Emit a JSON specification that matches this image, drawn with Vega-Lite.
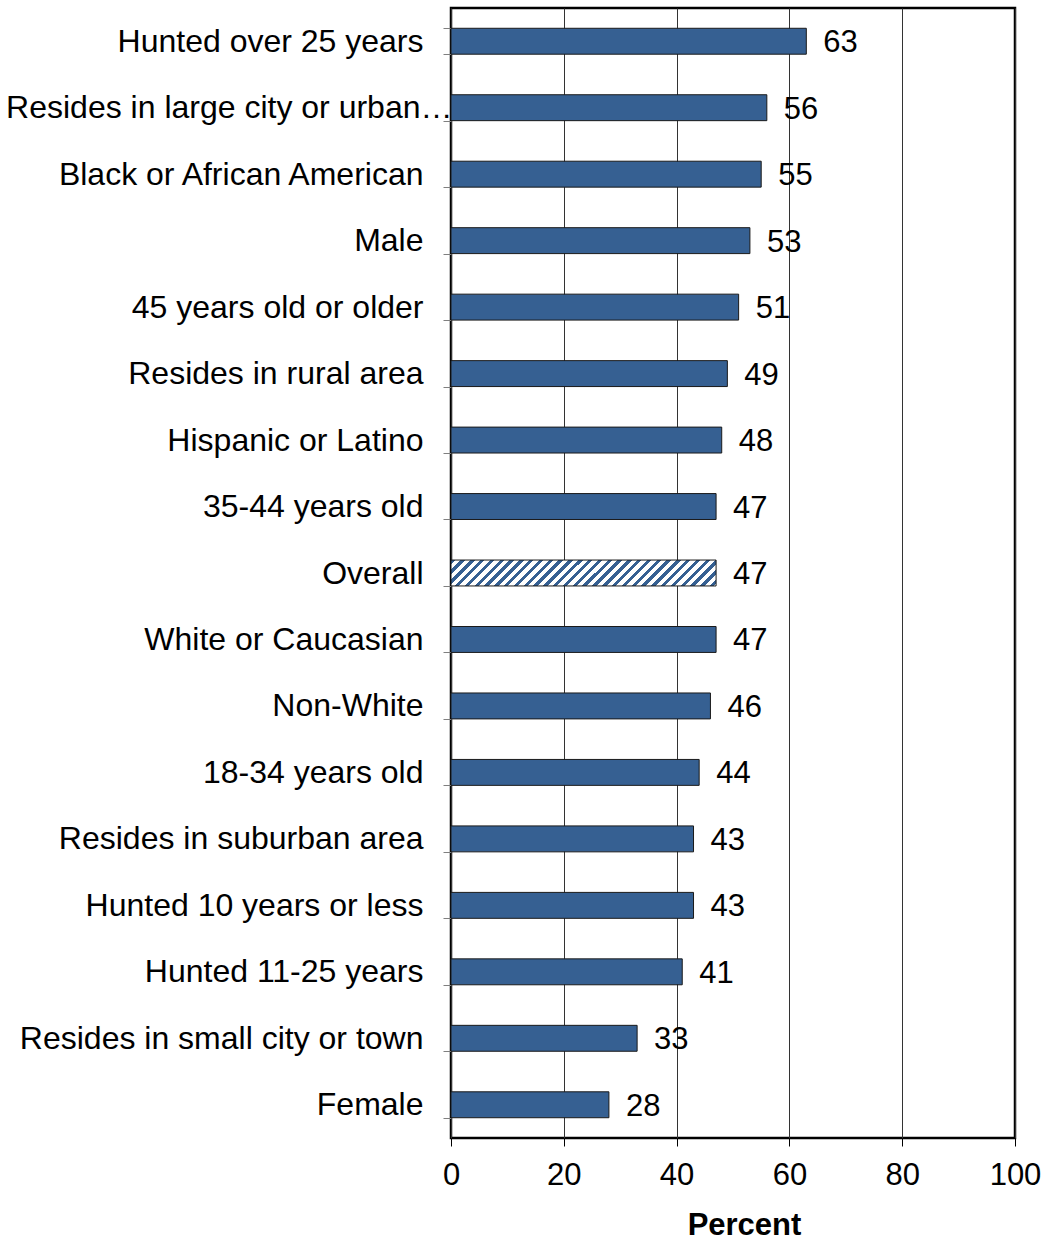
{
  "$schema": "https://vega.github.io/schema/vega-lite/v6.json",
  "width": 564,
  "height": 1130,
  "autosize": "none",
  "padding": {"left": 451, "top": 8, "right": 31, "bottom": 103},
  "background": "white",
  "config": {
    "font": "Liberation Sans",
    "view": {"stroke": "black", "strokeWidth": 2.5}
  },
  "data": {
    "values": [
      {"group": "Hunted over 25 years", "pct": 63},
      {"group": "Resides in large city or urban…", "pct": 56},
      {"group": "Black or African American", "pct": 55},
      {"group": "Male", "pct": 53},
      {"group": "45 years old or older", "pct": 51},
      {"group": "Resides in rural area", "pct": 49},
      {"group": "Hispanic or Latino", "pct": 48},
      {"group": "35-44 years old", "pct": 47},
      {"group": "Overall", "pct": 47},
      {"group": "White or Caucasian", "pct": 47},
      {"group": "Non-White", "pct": 46},
      {"group": "18-34 years old", "pct": 44},
      {"group": "Resides in suburban area", "pct": 43},
      {"group": "Hunted 10 years or less", "pct": 43},
      {"group": "Hunted 11-25 years", "pct": 41},
      {"group": "Resides in small city or town", "pct": 33},
      {"group": "Female", "pct": 28}
    ]
  },
  "encoding": {
    "y": {
      "field": "group",
      "type": "nominal",
      "sort": [
        "Hunted over 25 years",
        "Resides in large city or urban…",
        "Black or African American",
        "Male",
        "45 years old or older",
        "Resides in rural area",
        "Hispanic or Latino",
        "35-44 years old",
        "Overall",
        "White or Caucasian",
        "Non-White",
        "18-34 years old",
        "Resides in suburban area",
        "Hunted 10 years or less",
        "Hunted 11-25 years",
        "Resides in small city or town",
        "Female"
      ],
      "scale": {"paddingInner": 0.61, "paddingOuter": 0.305},
      "axis": {
        "title": null,
        "domain": false,
        "grid": false,
        "ticks": true,
        "tickBand": "extent",
        "tickSize": 8,
        "tickColor": "#7f7f7f",
        "tickWidth": 1,
        "labelFontSize": 32,
        "labelColor": "black",
        "labelPadding": {"condition": {"test": "datum.value === 'Resides in large city or urban…'", "value": -9}, "value": 20},
        "labelLimit": 600
      }
    },
    "x": {
      "field": "pct",
      "type": "quantitative",
      "scale": {"domain": [0, 100], "nice": false},
      "axis": {
        "values": [0, 20, 40, 60, 80, 100],
        "domain": false,
        "grid": true,
        "gridColor": "#333333",
        "gridWidth": 1,
        "ticks": true,
        "tickSize": 8,
        "tickColor": "black",
        "tickWidth": 1,
        "labelFontSize": 31,
        "labelColor": "black",
        "labelPadding": 14,
        "labelFlush": false,
        "title": "Percent",
        "titleFontSize": 31,
        "titleFontWeight": "bold",
        "titleColor": "black",
        "titleX": 293,
        "titleY": 96,
        "titleAlign": "center",
        "titleBaseline": "alphabetic"
      }
    }
  },
  "layer": [
    {
      "transform": [{"filter": "datum.group !== 'Overall'"}],
      "mark": {"type": "bar", "fill": "#366092", "stroke": "#1a1a1a", "strokeWidth": 1}
    },
    {
      "transform": [{"filter": "datum.group === 'Overall'"}],
      "mark": {
        "type": "bar",
        "stroke": "#1a1a1a",
        "strokeWidth": 1,
        "fill": {
          "gradient": "linear",
          "x1": 0, "y1": 0, "x2": 1.1, "y2": 0.1079,
          "stops": [
            {"offset": 0, "color": "#366092"}, {"offset": 0.015, "color": "#366092"}, {"offset": 0.015, "color": "white"}, {"offset": 0.0333, "color": "white"},
            {"offset": 0.0333, "color": "#366092"}, {"offset": 0.0483, "color": "#366092"}, {"offset": 0.0483, "color": "white"}, {"offset": 0.0667, "color": "white"},
            {"offset": 0.0667, "color": "#366092"}, {"offset": 0.0817, "color": "#366092"}, {"offset": 0.0817, "color": "white"}, {"offset": 0.1, "color": "white"},
            {"offset": 0.1, "color": "#366092"}, {"offset": 0.115, "color": "#366092"}, {"offset": 0.115, "color": "white"}, {"offset": 0.1333, "color": "white"},
            {"offset": 0.1333, "color": "#366092"}, {"offset": 0.1483, "color": "#366092"}, {"offset": 0.1483, "color": "white"}, {"offset": 0.1667, "color": "white"},
            {"offset": 0.1667, "color": "#366092"}, {"offset": 0.1817, "color": "#366092"}, {"offset": 0.1817, "color": "white"}, {"offset": 0.2, "color": "white"},
            {"offset": 0.2, "color": "#366092"}, {"offset": 0.215, "color": "#366092"}, {"offset": 0.215, "color": "white"}, {"offset": 0.2333, "color": "white"},
            {"offset": 0.2333, "color": "#366092"}, {"offset": 0.2483, "color": "#366092"}, {"offset": 0.2483, "color": "white"}, {"offset": 0.2667, "color": "white"},
            {"offset": 0.2667, "color": "#366092"}, {"offset": 0.2817, "color": "#366092"}, {"offset": 0.2817, "color": "white"}, {"offset": 0.3, "color": "white"},
            {"offset": 0.3, "color": "#366092"}, {"offset": 0.315, "color": "#366092"}, {"offset": 0.315, "color": "white"}, {"offset": 0.3333, "color": "white"},
            {"offset": 0.3333, "color": "#366092"}, {"offset": 0.3483, "color": "#366092"}, {"offset": 0.3483, "color": "white"}, {"offset": 0.3667, "color": "white"},
            {"offset": 0.3667, "color": "#366092"}, {"offset": 0.3817, "color": "#366092"}, {"offset": 0.3817, "color": "white"}, {"offset": 0.4, "color": "white"},
            {"offset": 0.4, "color": "#366092"}, {"offset": 0.415, "color": "#366092"}, {"offset": 0.415, "color": "white"}, {"offset": 0.4333, "color": "white"},
            {"offset": 0.4333, "color": "#366092"}, {"offset": 0.4483, "color": "#366092"}, {"offset": 0.4483, "color": "white"}, {"offset": 0.4667, "color": "white"},
            {"offset": 0.4667, "color": "#366092"}, {"offset": 0.4817, "color": "#366092"}, {"offset": 0.4817, "color": "white"}, {"offset": 0.5, "color": "white"},
            {"offset": 0.5, "color": "#366092"}, {"offset": 0.515, "color": "#366092"}, {"offset": 0.515, "color": "white"}, {"offset": 0.5333, "color": "white"},
            {"offset": 0.5333, "color": "#366092"}, {"offset": 0.5483, "color": "#366092"}, {"offset": 0.5483, "color": "white"}, {"offset": 0.5667, "color": "white"},
            {"offset": 0.5667, "color": "#366092"}, {"offset": 0.5817, "color": "#366092"}, {"offset": 0.5817, "color": "white"}, {"offset": 0.6, "color": "white"},
            {"offset": 0.6, "color": "#366092"}, {"offset": 0.615, "color": "#366092"}, {"offset": 0.615, "color": "white"}, {"offset": 0.6333, "color": "white"},
            {"offset": 0.6333, "color": "#366092"}, {"offset": 0.6483, "color": "#366092"}, {"offset": 0.6483, "color": "white"}, {"offset": 0.6667, "color": "white"},
            {"offset": 0.6667, "color": "#366092"}, {"offset": 0.6817, "color": "#366092"}, {"offset": 0.6817, "color": "white"}, {"offset": 0.7, "color": "white"},
            {"offset": 0.7, "color": "#366092"}, {"offset": 0.715, "color": "#366092"}, {"offset": 0.715, "color": "white"}, {"offset": 0.7333, "color": "white"},
            {"offset": 0.7333, "color": "#366092"}, {"offset": 0.7483, "color": "#366092"}, {"offset": 0.7483, "color": "white"}, {"offset": 0.7667, "color": "white"},
            {"offset": 0.7667, "color": "#366092"}, {"offset": 0.7817, "color": "#366092"}, {"offset": 0.7817, "color": "white"}, {"offset": 0.8, "color": "white"},
            {"offset": 0.8, "color": "#366092"}, {"offset": 0.815, "color": "#366092"}, {"offset": 0.815, "color": "white"}, {"offset": 0.8333, "color": "white"},
            {"offset": 0.8333, "color": "#366092"}, {"offset": 0.8483, "color": "#366092"}, {"offset": 0.8483, "color": "white"}, {"offset": 0.8667, "color": "white"},
            {"offset": 0.8667, "color": "#366092"}, {"offset": 0.8817, "color": "#366092"}, {"offset": 0.8817, "color": "white"}, {"offset": 0.9, "color": "white"},
            {"offset": 0.9, "color": "#366092"}, {"offset": 0.915, "color": "#366092"}, {"offset": 0.915, "color": "white"}, {"offset": 0.9333, "color": "white"},
            {"offset": 0.9333, "color": "#366092"}, {"offset": 0.9483, "color": "#366092"}, {"offset": 0.9483, "color": "white"}, {"offset": 0.9667, "color": "white"},
            {"offset": 0.9667, "color": "#366092"}, {"offset": 0.9817, "color": "#366092"}, {"offset": 0.9817, "color": "white"}, {"offset": 1, "color": "white"}
          ]
        }
      }
    },
    {
      "mark": {"type": "text", "align": "left", "baseline": "middle", "dx": 17, "dy": 2, "fontSize": 31, "color": "black"},
      "encoding": {"text": {"field": "pct", "type": "quantitative"}}
    }
  ]
}
